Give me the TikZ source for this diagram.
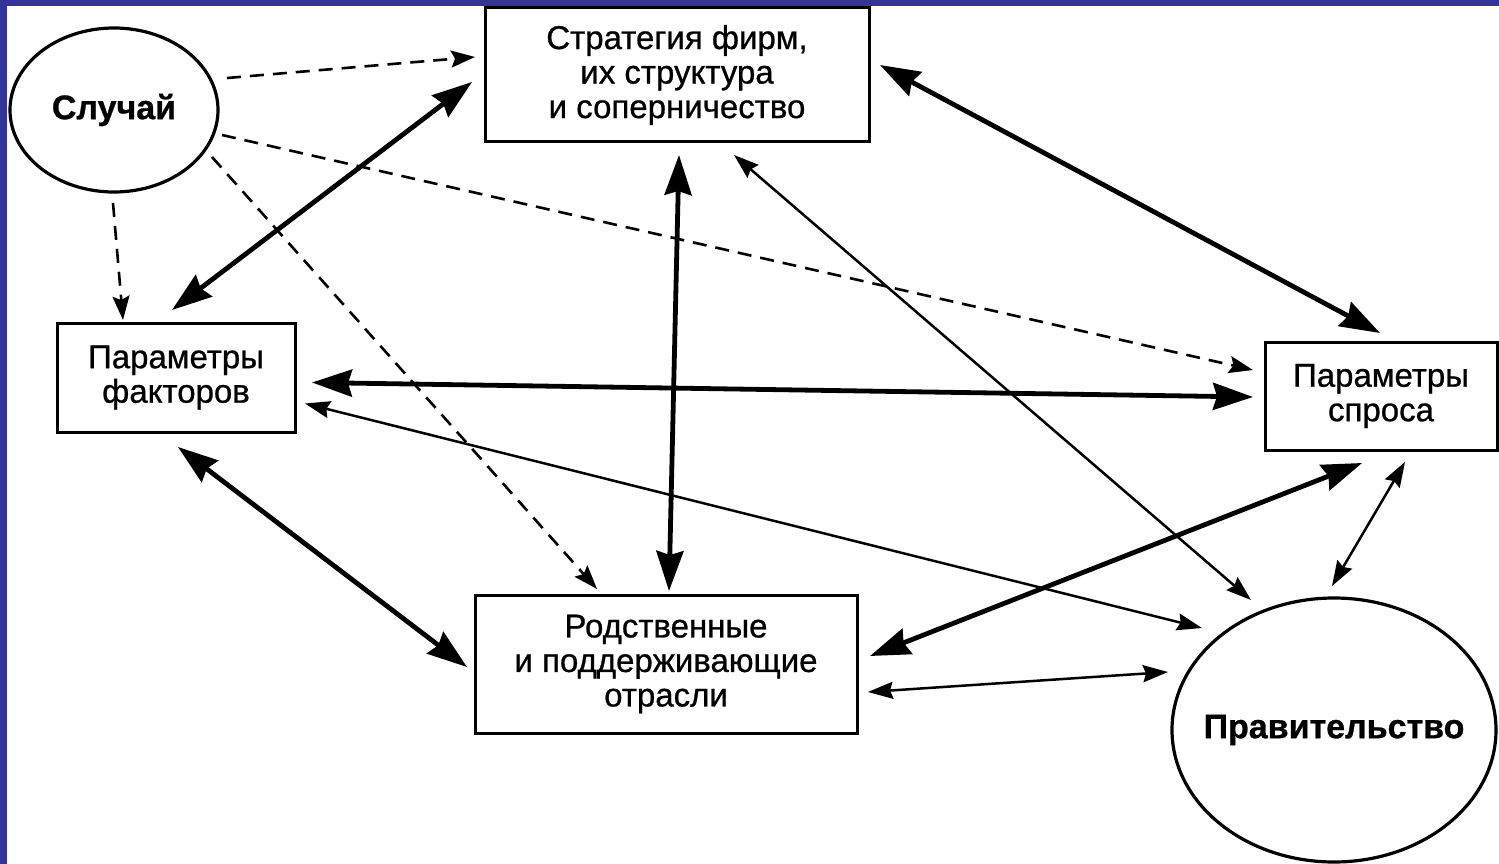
\documentclass[tikz,border=0pt]{standalone}
\usepackage{fontspec}
\setmainfont{Liberation Sans}
\newfontfamily\boxfont{Liberation Sans}[FakeBold=0.8]
\newfontfamily\labfont{Liberation Sans Bold}[FakeBold=0.8]
\usetikzlibrary{arrows.meta,shapes.geometric}
\definecolor{frameblue}{HTML}{333399}
\begin{document}
\begin{tikzpicture}[x=1pt,y=-1pt,
  every node/.style={font=\boxfont\fontsize{33}{34.5}\selectfont, align=center, outer sep=0pt},
  boxnode/.style={draw, line width=3pt, rectangle, inner sep=0pt},
  ellnode/.style={draw, line width=3.2pt, ellipse, inner sep=0pt, font=\labfont\fontsize{34}{36}\selectfont},
  bigarr/.style={line width=4.8pt, {Stealth[length=40pt,width=27pt,inset=4pt]}-{Stealth[length=40pt,width=27pt,inset=4pt]}},
  thinarr/.style={line width=2.5pt, {Stealth[length=25pt,width=17pt,inset=3pt]}-{Stealth[length=25pt,width=17pt,inset=3pt]}},
  dasharr/.style={line width=2.6pt, dash pattern=on 14pt off 9pt, -{Stealth[length=24pt,width=17pt,inset=4pt]}}
]
\useasboundingbox (0,0) rectangle (1499,864);
\fill[frameblue] (0,0) rectangle (1499,864);
\fill[white] (7,6) rectangle (1499,864);

% nodes
\node[ellnode, minimum width=208pt, minimum height=164pt] (sl) at (114,110) {\makebox[0pt]{Случай}};
\node[boxnode, minimum width=384pt, minimum height=134pt] (strat) at (677,75) {Стратегия фирм,\\их структура\\и соперничество};
\node[boxnode, minimum width=238pt, minimum height=109pt] (fac) at (176,377.5) {Параметры\\факторов};
\node[boxnode, minimum width=232pt, minimum height=108pt] (spros) at (1381,396) {Параметры\\спроса};
\node[boxnode, minimum width=382pt, minimum height=138pt] (rod) at (666,664) {Родственные\\и поддерживающие\\отрасли};
\node[ellnode, minimum width=324pt, minimum height=264pt] (gov) at (1334,730) {\makebox[0pt]{Правительство}};

% dashed influences of chance
\draw[dasharr] ([shift={(113,-32)}]sl.center) -- ([shift={(-10,-18)}]strat.west);
\draw[dasharr] ([shift={(108,25)}]sl.center) -- ([shift={(-12,-26)}]spros.west);
\draw[dasharr] ([shift={(-1,11)}]sl.south) -- ([shift={(-53,-3)}]fac.north);
\draw[dasharr] ([shift={(98,47)}]sl.center) -- ([shift={(-69,-6)}]rod.north);

% thick two-way links
\draw[bigarr] ([shift={(-4,-13)}]fac.north) -- ([shift={(-13,7)}]strat.west);
\draw[bigarr] ([shift={(11,-10)}]strat.east) -- ([shift={(-1,-9)}]spros.north);
\draw[bigarr] ([shift={(2,13)}]strat.south) -- ([shift={(3,-4)}]rod.north);
\draw[bigarr] ([shift={(17,5)}]fac.east) -- ([shift={(-12,1)}]spros.west);
\draw[bigarr] ([shift={(2,15)}]fac.south) -- ([shift={(-8,3)}]rod.west);
\draw[bigarr] ([shift={(13,-8)}]rod.east) -- ([shift={(-19,13)}]spros.south);

% thin two-way links with government
\draw[thinarr] ([shift={(57,13)}]strat.south) -- ([shift={(-83,-130)}]gov.center);
\draw[thinarr] ([shift={(10,26)}]fac.east) -- ([shift={(-132,-102)}]gov.center);
\draw[thinarr] ([shift={(11,28)}]rod.east) -- ([shift={(-166,-58)}]gov.center);
\draw[thinarr] ([shift={(24,12)}]spros.south) -- ([shift={(-2,-12)}]gov.north);
\end{tikzpicture}
\end{document}
